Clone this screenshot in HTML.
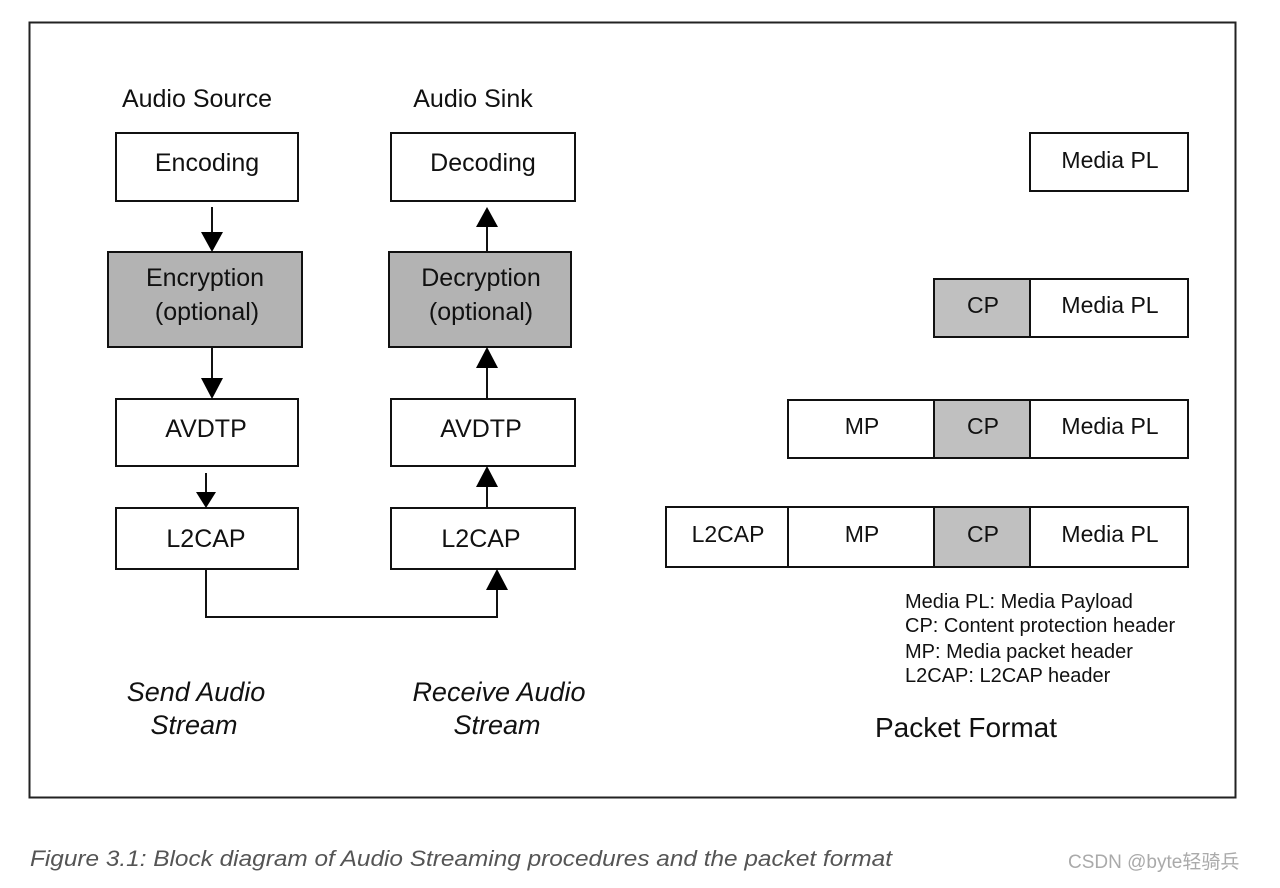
<!DOCTYPE html>
<html><head><style>body{margin:0;background:#fff}svg text{font-family:"Liberation Sans",Arial,sans-serif}.cj{font-family:"Liberation Sans","Noto Sans CJK SC",sans-serif!important}</style></head><body>
<svg width="1280" height="883" xmlns="http://www.w3.org/2000/svg">
<rect x="29.5" y="22.5" width="1206" height="775" fill="none" stroke="#222" stroke-width="2"/>
<g stroke="#111" stroke-width="2">
<rect x="116" y="133" width="182" height="68" fill="#fff"/>
<rect x="108" y="252" width="194" height="95" fill="#b3b3b3"/>
<rect x="116" y="399" width="182" height="67" fill="#fff"/>
<rect x="116" y="508" width="182" height="61" fill="#fff"/>
<rect x="391" y="133" width="184" height="68" fill="#fff"/>
<rect x="389" y="252" width="182" height="95" fill="#b3b3b3"/>
<rect x="391" y="399" width="184" height="67" fill="#fff"/>
<rect x="391" y="508" width="184" height="61" fill="#fff"/>
<line x1="212" y1="207" x2="212" y2="235"/>
<line x1="212" y1="347" x2="212" y2="380"/>
<line x1="206" y1="473" x2="206" y2="494"/>
<line x1="487" y1="252" x2="487" y2="225"/>
<line x1="487" y1="399" x2="487" y2="366"/>
<line x1="487" y1="508" x2="487" y2="486"/>
<polyline points="206,569 206,617 497,617 497,588" fill="none"/>
</g>
<g fill="#000">
<polygon points="201,232 223,232 212,252"/>
<polygon points="201,378 223,378 212,399"/>
<polygon points="196,492 216,492 206,508"/>
<polygon points="476,227 498,227 487,207"/>
<polygon points="476,368 498,368 487,347"/>
<polygon points="476,487 498,487 487,466"/>
<polygon points="486,590 508,590 497,569"/>
</g>
<g font-size="25" text-anchor="middle" fill="#111">
<text x="197" y="107">Audio Source</text>
<text x="473" y="107">Audio Sink</text>
<text x="207" y="171">Encoding</text>
<text x="205" y="286">Encryption</text>
<text x="207" y="320">(optional)</text>
<text x="206" y="437">AVDTP</text>
<text x="206" y="547">L2CAP</text>
<text x="483" y="171">Decoding</text>
<text x="481" y="286">Decryption</text>
<text x="481" y="320">(optional)</text>
<text x="481" y="437">AVDTP</text>
<text x="481" y="547">L2CAP</text>
</g>
<g stroke="#111" stroke-width="2">
<rect x="1030" y="133" width="158" height="58" fill="#fff"/>
<rect x="934" y="279" width="96" height="58" fill="#c0c0c0"/>
<rect x="1030" y="279" width="158" height="58" fill="#fff"/>
<rect x="788" y="400" width="146" height="58" fill="#fff"/>
<rect x="934" y="400" width="96" height="58" fill="#c0c0c0"/>
<rect x="1030" y="400" width="158" height="58" fill="#fff"/>
<rect x="666" y="507" width="122" height="60" fill="#fff"/>
<rect x="788" y="507" width="146" height="60" fill="#fff"/>
<rect x="934" y="507" width="96" height="60" fill="#c0c0c0"/>
<rect x="1030" y="507" width="158" height="60" fill="#fff"/>
</g>
<g font-size="23" text-anchor="middle" fill="#111">
<text x="1110" y="168">Media PL</text>
<text x="983" y="313">CP</text><text x="1110" y="313">Media PL</text>
<text x="862" y="434">MP</text><text x="983" y="434">CP</text><text x="1110" y="434">Media PL</text>
<text x="728" y="542">L2CAP</text><text x="862" y="542">MP</text><text x="983" y="542">CP</text><text x="1110" y="542">Media PL</text>
</g>
<g font-size="20" fill="#111">
<text x="905" y="608">Media PL: Media Payload</text>
<text x="905" y="632">CP: Content protection header</text>
<text x="905" y="658">MP: Media packet header</text>
<text x="905" y="682">L2CAP: L2CAP header</text>
</g>
<text x="966" y="737" font-size="28" text-anchor="middle" fill="#111">Packet Format</text>
<g font-size="27" font-style="italic" text-anchor="middle" fill="#111">
<text x="196" y="701">Send Audio</text><text x="194" y="734">Stream</text>
<text x="499" y="701">Receive Audio</text><text x="497" y="734">Stream</text>
</g>
<text x="30" y="866" font-size="22" font-style="italic" fill="#555" textLength="862" lengthAdjust="spacingAndGlyphs">Figure 3.1: Block diagram of Audio Streaming procedures and the packet format</text>
<text x="1068" y="868" font-size="19" fill="#aaa" class="cj">CSDN @byte轻骑兵</text>
</svg>
</body></html>
